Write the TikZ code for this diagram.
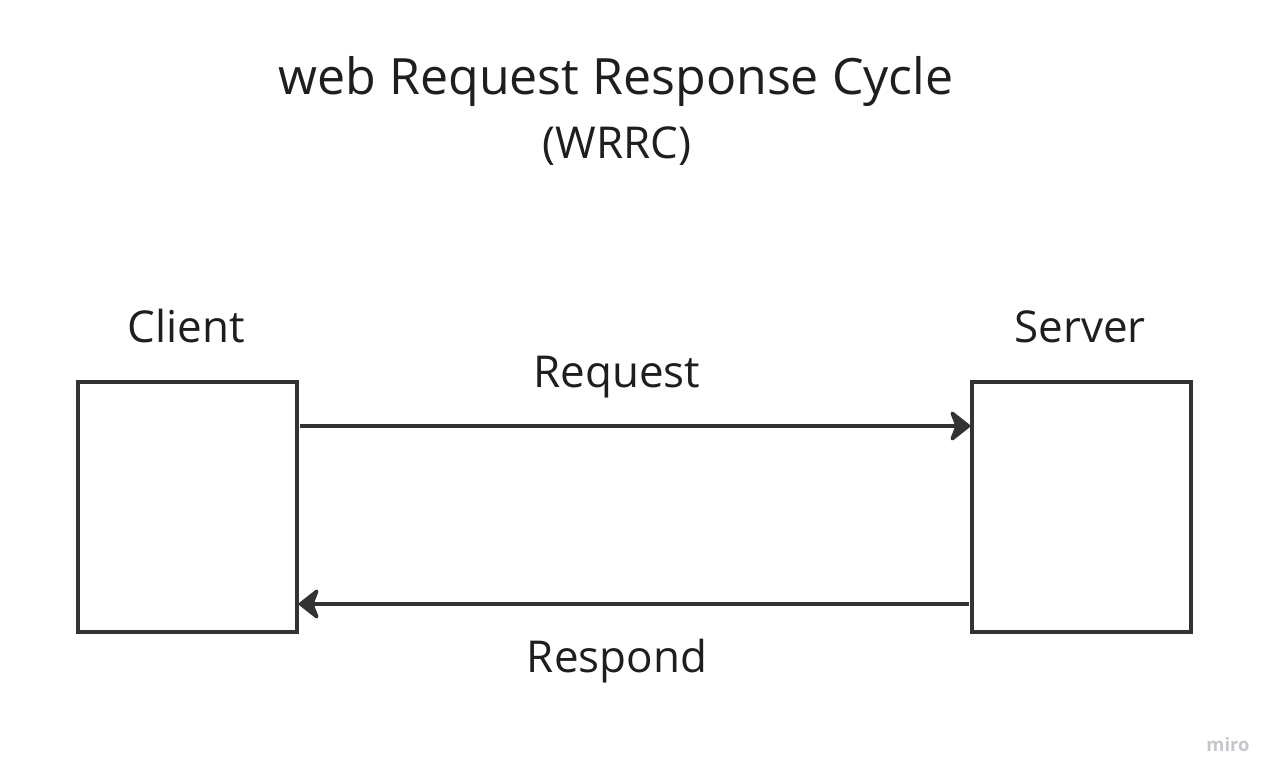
\documentclass[tikz,border=0pt]{standalone}
\usepackage{fontspec}
\setmainfont{Open Sans}
\usepackage{tikz}
\usetikzlibrary{arrows.meta, positioning}
\usepackage{xcolor}
\definecolor{inkgray}{HTML}{333333}
\definecolor{textgray}{HTML}{1E1E1E}
\definecolor{marklight}{HTML}{C6C6CC}

\begin{document}
\begin{tikzpicture}[%
    x=0.02cm, y=-0.02cm,
    every node/.style={%
      font=\fontsize{25}{30}\selectfont,
      text=textgray,
      inner sep=0pt
    },
    frame/.style={draw=inkgray, line width=2.1pt, minimum width=4.38cm,
      minimum height=5cm},
    flow/.style={draw=inkgray, line width=2.1pt,
      -{Stealth[length=0.46cm, width=0.72cm, inset=0.14cm, round]}}
  ]
  \useasboundingbox (0,0) rectangle (1278,781);

  % Title
  \node[font=\fontsize{28.5}{34}\selectfont, anchor=base] (title) at (616,94)
    {web Request Response Cycle};
  \node[anchor=base] (short) at (617,158) {(WRRC)};

  % Boxes
  \node[frame] (client) at (187.5,507) {};
  \node[frame] (server) at (1081.5,507) {};
  \node[anchor=base] (clientlbl) at (186,342) {Client};
  \node[anchor=base] (serverlbl) at (1080,342) {Server};

  % Arrows
  \coordinate (reqstart) at (300,426);
  \draw[flow] (reqstart) -- (reqstart -| server.west);
  \coordinate (resstart) at (969,604);
  \draw[flow] (resstart) -- (resstart -| client.east);
  \node[anchor=base] (req) at (617,387) {Request};
  \node[anchor=base] (res) at (617,672) {Respond};

  % Watermark
  \node[font=\fontsize{10.5}{12}\selectfont\bfseries, text=marklight, anchor=base]
    (mark) at (1228,751) {miro};
\end{tikzpicture}
\end{document}
